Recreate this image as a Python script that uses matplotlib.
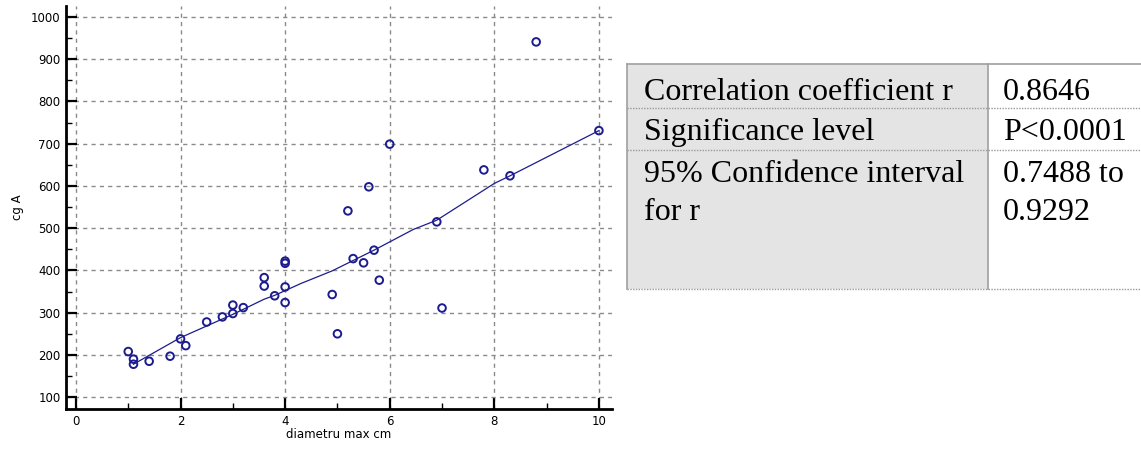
"""
Scatter of cg A against maximum diameter with a smoothed fit,
plus the correlation summary table beside it.
"""

import matplotlib.pyplot as plt
from matplotlib.patches import Rectangle
from matplotlib.ticker import MultipleLocator

# measurements: diameter (cm) and cg A
diam_cm = [1.0, 1.1, 1.1, 1.4, 1.8, 2.0, 2.1, 2.5, 2.8, 3.0, 3.0, 3.2,
           3.6, 3.6, 3.8, 4.0, 4.0, 4.0, 4.0, 4.9, 5.0, 5.2, 5.3, 5.5,
           5.6, 5.7, 5.8, 6.0, 6.9, 7.0, 7.8, 8.3, 8.8, 10.0]
cg_a = [208, 190, 178, 185, 197, 238, 222, 278, 290, 318, 298, 312,
        383, 363, 340, 422, 417, 361, 324, 343, 250, 541, 428, 418,
        598, 448, 377, 699, 515, 311, 638, 624, 941, 731]

# smoothed fit through the cloud
fit_x = [1.1, 2.0, 3.0, 3.6, 3.8, 4.3, 4.9, 5.7, 6.45, 6.9, 8.0, 8.3, 10.0]
fit_y = [178, 241, 296, 332, 341, 369, 399, 448, 497, 519, 606, 624, 731]

# summary table rows: (label, value)
stat_labels = ["Correlation coefficient r", "Significance level",
               "95% Confidence interval\nfor r"]
stat_values = ["0.8646", "P<0.0001", "0.7488 to\n0.9292"]

NAVY = "#1c1c8f"
W, H = 1141, 449

fig = plt.figure(figsize=(W / 100, H / 100), dpi=100)

ax = fig.add_axes([66 / W, 1 - 409 / H, (612 - 66) / W, (409 - 6) / H])
ax.plot(fit_x, fit_y, color=NAVY, linewidth=0.9, zorder=3)
ax.scatter(diam_cm, cg_a, s=30, facecolors="none", edgecolors=NAVY,
           linewidths=1.4, zorder=4)

ax.set_xlim(-0.19, 10.25)
ax.set_ylim(72, 1026)
ax.xaxis.set_major_locator(MultipleLocator(2))
ax.xaxis.set_minor_locator(MultipleLocator(1))
ax.yaxis.set_major_locator(MultipleLocator(100))
ax.yaxis.set_minor_locator(MultipleLocator(50))
ax.set_yticks(range(100, 1001, 100))

for side in ("top", "right"):
    ax.spines[side].set_visible(False)
for side in ("left", "bottom"):
    ax.spines[side].set_linewidth(2.0)

ax.tick_params(which="major", direction="in", length=8, width=1.6,
               labelsize=8.5, pad=4)
ax.tick_params(which="minor", direction="in", length=4, width=1.0)
ax.grid(True, which="major", color="#8a8a8a", linestyle=(0, (3, 3)),
        linewidth=1.0)
ax.set_axisbelow(True)

ax.set_xlabel("diametru max cm", fontsize=8.5, labelpad=0)
ax.set_ylabel("cg A", fontsize=8.5, labelpad=5)

# summary table drawn in pixel coordinates
tab = fig.add_axes([0, 0, 1, 1], zorder=-1)
tab.set_xlim(0, W)
tab.set_ylim(H, 0)
tab.axis("off")

left, mid, right = 627, 988, W
top, bottom = 64, 289
row_lines = [108, 150]

tab.add_patch(Rectangle((left, top), mid - left, bottom - top,
                        facecolor="#e4e4e4", edgecolor="none"))
tab.plot([left, right], [top, top], color="#a0a0a0", linewidth=1.2)
tab.plot([left, left], [top, bottom], color="#a0a0a0", linewidth=1.2)
tab.plot([mid, mid], [top, bottom], color="#a0a0a0", linewidth=1.2)
for y in row_lines + [bottom]:
    tab.plot([left, right], [y, y], color="#9a9a9a", linewidth=1.0,
             linestyle=(0, (1, 1)))

baselines = [100, 140, 182]
for yb, lab, val in zip(baselines, stat_labels, stat_values):
    first_lab = lab.split("\n")
    first_val = val.split("\n")
    for k, (tl, tv) in enumerate(zip(first_lab, first_val)):
        tab.text(644, yb + 38 * k, tl, fontsize=23,
                 family="Liberation Serif", va="baseline", ha="left")
        tab.text(1003, yb + 38 * k, tv, fontsize=23,
                 family="Liberation Serif", va="baseline", ha="left")

fig.savefig("out.png", dpi=100)
